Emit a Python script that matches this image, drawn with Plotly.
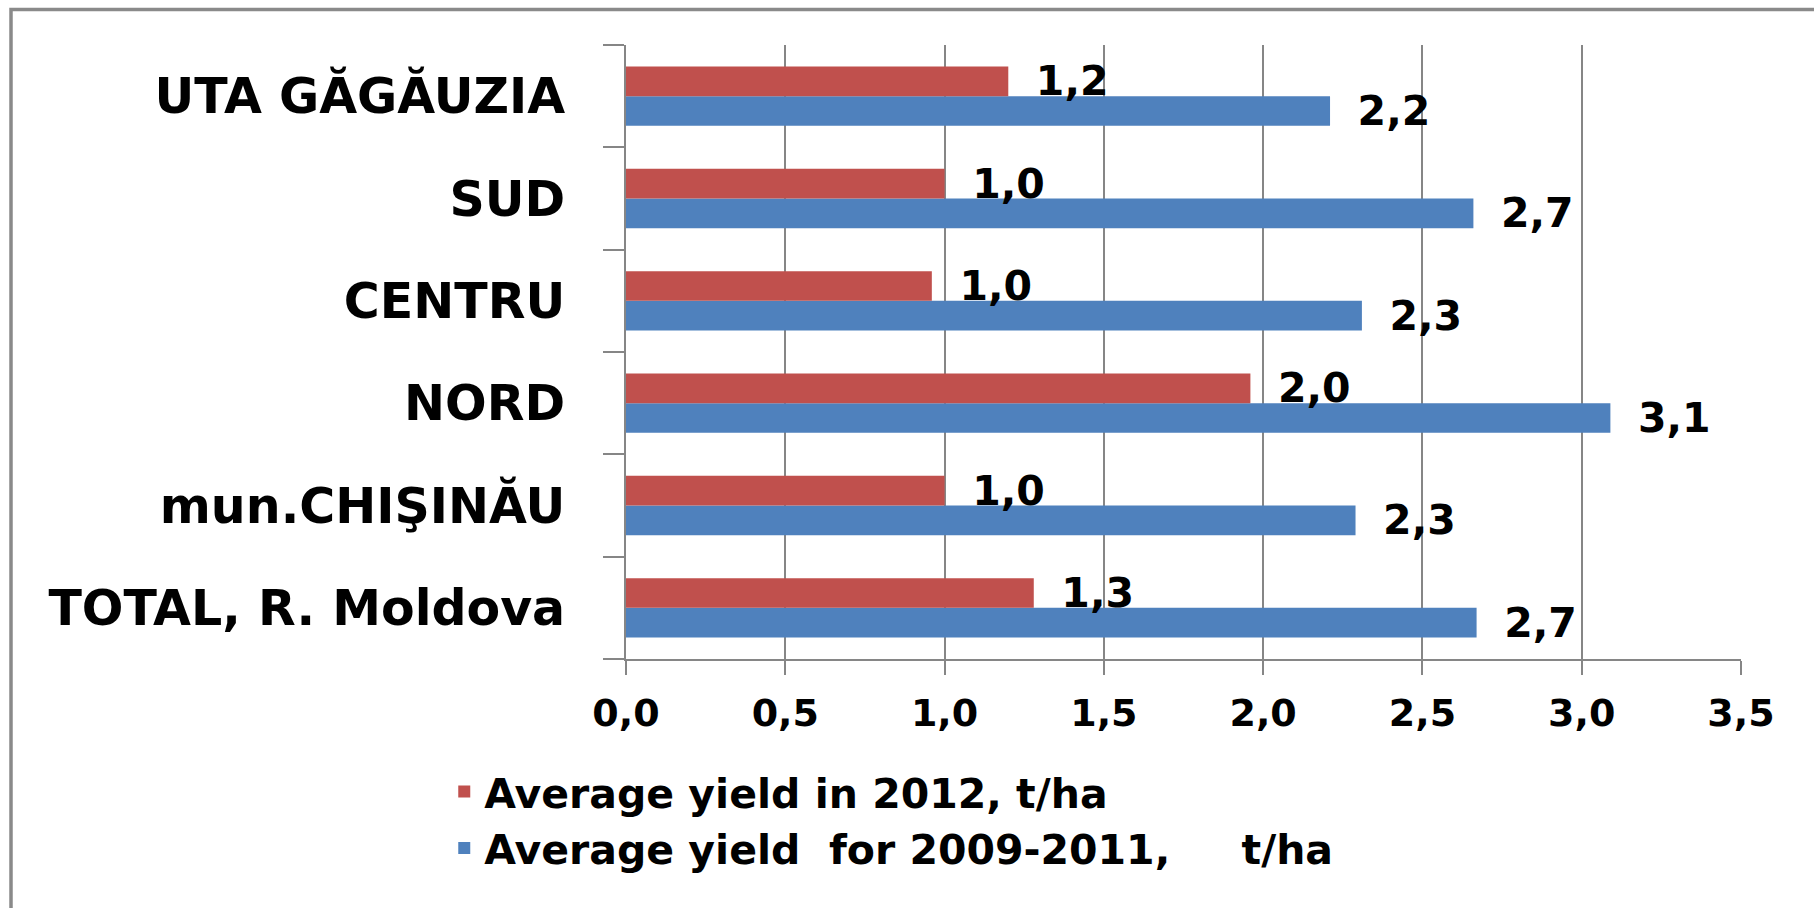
import plotly.graph_objects as go

categories = ["TOTAL, R. Moldova", "mun.CHIŞINĂU", "NORD", "CENTRU", "SUD", "UTA GĂGĂUZIA"]
yield_2012 = [1.28, 1.0, 1.96, 0.96, 1.0, 1.2]
yield_2009_2011 = [2.67, 2.29, 3.09, 2.31, 2.66, 2.21]
series_names = ["Average yield in 2012, t/ha",
                "Average yield\u00a0 for 2009-2011,\u00a0\u00a0\u00a0\u00a0\u00a0t/ha"]
x_ticks = [0, 0.5, 1.0, 1.5, 2.0, 2.5, 3.0, 3.5]

RED = "#C0504D"
BLUE = "#4F81BD"
GRID = "#868686"
FONT = "DejaVu Sans"

W, H = 1814, 908
L, R, T, B = 626, 73, 45, 249

label_font = dict(family=FONT, size=41, color="black", weight="bold")

fig = go.Figure()
fig.add_trace(go.Bar(
    y=categories, x=yield_2009_2011, orientation="h", name=series_names[1],
    marker=dict(color=BLUE, line=dict(width=0)),
    text=yield_2009_2011, texttemplate="\u2002\u200a%{x:.1f}", textposition="outside",
    constraintext="none", cliponaxis=False,
    outsidetextfont=label_font,
    legendrank=2,
))
fig.add_trace(go.Bar(
    y=categories, x=yield_2012, orientation="h", name=series_names[0],
    marker=dict(color=RED, line=dict(width=0)),
    text=yield_2012, texttemplate="\u2002\u200a%{x:.1f}", textposition="outside",
    constraintext="none", cliponaxis=False,
    outsidetextfont=label_font,
    legendrank=1,
))

# outer frame (top and left edges visible in the reference)
fx0 = (11 - L) / (W - L - R)
fy1 = 1 + (T - 9.5) / (H - T - B)
fig.add_shape(type="rect", xref="paper", yref="paper",
              x0=fx0, x1=2.0, y0=-2.0, y1=fy1,
              line=dict(color="#8a8a8a", width=3.5), layer="below")

fig.update_layout(
    width=W, height=H,
    margin=dict(l=L, r=R, t=T, b=B, autoexpand=False),
    paper_bgcolor="white", plot_bgcolor="white",
    barmode="group", bargap=0.42, bargroupgap=0.0,
    separators=", ",
    font=dict(family=FONT, color="black"),
    showlegend=True,
    legend=dict(
        orientation="v", x=-0.163, xanchor="left", y=-0.162, yanchor="top",
        font=dict(family=FONT, size=41, color="black", weight="bold"),
        bgcolor="rgba(0,0,0,0)", itemclick=False, itemdoubleclick=False,
        tracegroupgap=0,
    ),
    xaxis=dict(
        range=[0, 3.5], tickvals=x_ticks, tickformat=".1f",
        showgrid=True, gridcolor=GRID, gridwidth=2,
        showline=True, linecolor=GRID, linewidth=2,
        ticks="outside", ticklen=14, tickwidth=2, tickcolor=GRID,
        zeroline=False, ticklabelstandoff=5,
        tickfont=dict(family=FONT, size=38, color="black", weight="bold"),
        fixedrange=True,
    ),
    yaxis=dict(
        type="category", categoryorder="array", categoryarray=categories,
        showgrid=False, showline=True, linecolor=GRID, linewidth=2,
        ticks="outside", tickson="boundaries", ticklen=21, tickwidth=2, tickcolor=GRID,
        ticklabelstandoff=49,
        tickfont=dict(family=FONT, size=49, color="black", weight="bold"),
        fixedrange=True,
    ),
)

fig.write_html("out.html", config={"displayModeBar": False},
               post_script="document.body.style.margin='0';document.body.style.overflow='hidden';")
